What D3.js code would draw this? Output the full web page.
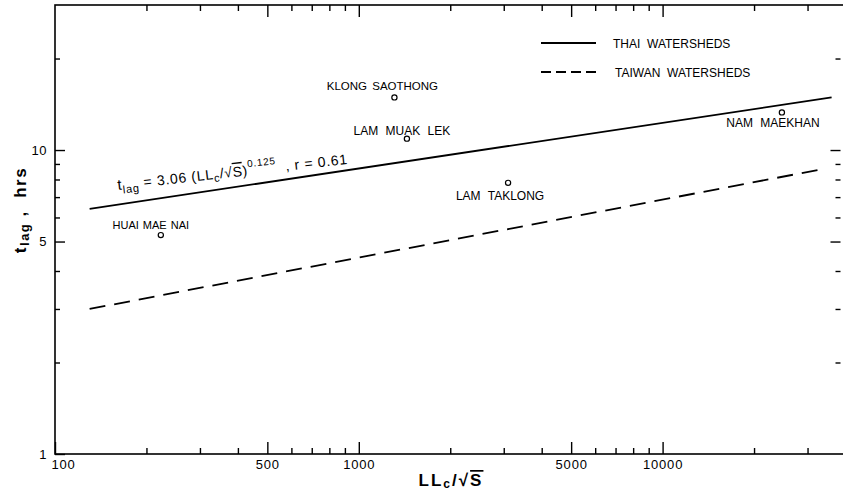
<!DOCTYPE html>
<html>
<head>
<meta charset="utf-8">
<script src="https://cdn.jsdelivr.net/npm/d3@7"></script>
<style>
  html, body { margin: 0; padding: 0; background: #fff; }
  svg { display: block; font-family: "Liberation Sans", Arial, sans-serif; }
  text { fill: #000; }
</style>
</head>
<body>
<svg id="chart" width="843" height="497"></svg>
<script>
// ---- data ----
const watersheds = ["HUAI MAE NAI", "KLONG SAOTHONG", "LAM MUAK LEK", "LAM TAKLONG", "NAM MAEKHAN"];
const llcOverSqrtS = [223, 1310, 1440, 3100, 24700];
const tLag = [5.25, 14.9, 10.9, 7.8, 13.3];

const thaiLineX = [130, 36000];
const thaiLineY = [6.4, 14.9];
const taiwanLineX = [130, 32500];
const taiwanLineY = [3.0, 8.6];

const legendLabels = ["THAI  WATERSHEDS", "TAIWAN  WATERSHEDS"];

const xMajorTicks = [100, 500, 1000, 5000, 10000];
const xMinorTicks = [200, 300, 400, 600, 700, 800, 900, 2000, 3000, 4000, 6000, 7000, 8000, 9000, 20000, 30000];
const yMajorTicks = [1, 5, 10];
const yMinorTicks = [2, 3, 4, 6, 7, 8, 9, 20];

// ---- layout ----
const svg = d3.select("#chart");
const pLeft = 55, pRight = 845.5, pTop = 5, pBottom = 454;

const x = d3.scaleLog().domain([100, 40000]).range([pLeft, pRight]);
const y = d3.scaleLog().domain([1, 30]).range([pBottom, pTop]);

// frame
svg.append("rect")
  .attr("x", pLeft).attr("y", pTop)
  .attr("width", pRight - pLeft).attr("height", pBottom - pTop)
  .attr("fill", "none").attr("stroke", "#000").attr("stroke-width", 1.6);

function styleAxis(g) {
  g.select(".domain").remove();
  g.selectAll(".tick line").attr("stroke", "#000").attr("stroke-width", 1.4);
  g.selectAll(".tick text").attr("fill", "#000");
}

// bottom axis
svg.append("g").attr("transform", `translate(0,${pBottom})`)
  .call(d3.axisBottom(x).tickValues(xMinorTicks).tickSize(-6).tickFormat(""))
  .call(styleAxis);
const xMaj = svg.append("g").attr("transform", `translate(0,${pBottom})`)
  .call(d3.axisBottom(x).tickValues(xMajorTicks).tickSize(-12).tickPadding(6).tickFormat(d3.format("d")))
  .call(styleAxis);
xMaj.selectAll(".tick text").attr("font-size", 13).attr("letter-spacing", 0.8)
  .attr("font-family", "Liberation Sans, Arial, sans-serif");
xMaj.selectAll(".tick").filter(d => d === 100).select("text").attr("dx", 8);

// top axis
svg.append("g").attr("transform", `translate(0,${pTop})`)
  .call(d3.axisTop(x).tickValues(xMinorTicks).tickSize(-6).tickFormat(""))
  .call(styleAxis);
svg.append("g").attr("transform", `translate(0,${pTop})`)
  .call(d3.axisTop(x).tickValues(xMajorTicks.filter(d => d > 100)).tickSize(-12).tickFormat(""))
  .call(styleAxis);

// left axis
svg.append("g").attr("transform", `translate(${pLeft},0)`)
  .call(d3.axisLeft(y).tickValues(yMinorTicks).tickSize(-5).tickFormat(""))
  .call(styleAxis);
const yMaj = svg.append("g").attr("transform", `translate(${pLeft},0)`)
  .call(d3.axisLeft(y).tickValues(yMajorTicks).tickSize(-10).tickPadding(8).tickFormat(d3.format("d")))
  .call(styleAxis);
yMaj.selectAll(".tick text").attr("font-size", 13).attr("letter-spacing", 0.5)
  .attr("font-family", "Liberation Sans, Arial, sans-serif");

// right axis (ticks only)
svg.append("g").attr("transform", `translate(${pRight - 5},0)`)
  .call(d3.axisRight(y).tickValues(yMinorTicks).tickSize(-5).tickFormat(""))
  .call(styleAxis);
svg.append("g").attr("transform", `translate(${pRight - 5},0)`)
  .call(d3.axisRight(y).tickValues(yMajorTicks.filter(d => d > 1)).tickSize(-10).tickFormat(""))
  .call(styleAxis);

// regression lines
const line = d3.line().x(d => x(d[0])).y(d => y(d[1]));
svg.append("path")
  .datum(d3.zip(thaiLineX, thaiLineY))
  .attr("d", line).attr("fill", "none").attr("stroke", "#000").attr("stroke-width", 1.8);
svg.append("path")
  .datum(d3.zip(taiwanLineX, taiwanLineY))
  .attr("d", line).attr("fill", "none").attr("stroke", "#000").attr("stroke-width", 1.8)
  .attr("stroke-dasharray", "16,9");

// points
const pts = d3.range(watersheds.length).map(i => ({name: watersheds[i], xv: llcOverSqrtS[i], yv: tLag[i]}));
svg.append("g").selectAll("circle").data(pts).join("circle")
  .attr("cx", d => x(d.xv)).attr("cy", d => y(d.yv)).attr("r", 2.6)
  .attr("fill", "#fff").attr("stroke", "#000").attr("stroke-width", 1.2);

// point labels: [dx, dy, word-spacing, font-size]
const labelStyle = {
  "HUAI MAE NAI": [-10, -6, 1, 11],
  "KLONG SAOTHONG": [-12, -7, 2, 11.5],
  "LAM MUAK LEK": [-5, -4, 4, 12],
  "LAM TAKLONG": [-8, 17, 4, 12],
  "NAM MAEKHAN": [-9, 15, 4, 12]
};
svg.append("g").selectAll("text").data(pts).join("text")
  .attr("x", d => x(d.xv) + labelStyle[d.name][0])
  .attr("y", d => y(d.yv) + labelStyle[d.name][1])
  .attr("text-anchor", "middle")
  .attr("font-size", d => labelStyle[d.name][3])
  .attr("word-spacing", d => labelStyle[d.name][2])
  .text(d => d.name);

// legend
const legend = svg.append("g");
[0, 1].forEach(i => {
  const ly = 43 + i * 29;
  legend.append("line")
    .attr("x1", 541).attr("x2", 596).attr("y1", ly).attr("y2", ly)
    .attr("stroke", "#000").attr("stroke-width", 1.8)
    .attr("stroke-dasharray", i === 1 ? "10,5" : null);
  legend.append("text")
    .attr("x", 613 + i * 2).attr("y", ly + 5)
    .attr("font-size", 12)
    .style("white-space", "pre")
    .text(legendLabels[i]);
});

// equation along the Thai line
const eq = svg.append("text")
  .attr("transform", "translate(118,190) rotate(-6.5)")
  .attr("font-size", 14)
  .attr("letter-spacing", 0.7)
  .style("white-space", "pre");
eq.append("tspan").attr("font-size", 15).text("t");
eq.append("tspan").attr("font-size", 11).attr("dy", 4).text("lag");
eq.append("tspan").attr("dy", -4).text(" = 3.06 (LL");
eq.append("tspan").attr("font-size", 11).attr("dy", 3).text("c");
eq.append("tspan").attr("dy", -3).text("/√");
eq.append("tspan").style("text-decoration", "overline").text("S");
eq.append("tspan").text(")");
eq.append("tspan").attr("font-size", 10).attr("dy", -8).text("0.125");
eq.append("tspan").attr("dy", 8).text("  , r = 0.61");

// x axis title
const xt = svg.append("text")
  .attr("x", 451).attr("y", 486)
  .attr("text-anchor", "middle")
  .attr("font-size", 17)
  .attr("font-weight", "bold")
  .attr("letter-spacing", 2)
  .style("white-space", "pre");
xt.append("tspan").text("LL");
xt.append("tspan").attr("font-size", 12).attr("dy", 2).text("c");
xt.append("tspan").attr("dy", -2).text("/√");
xt.append("tspan").style("text-decoration", "overline").text("S");

// y axis title
const yt = svg.append("text")
  .attr("transform", "translate(26,210) rotate(-90)")
  .attr("text-anchor", "middle")
  .attr("font-size", 17)
  .attr("font-weight", "bold")
  .attr("letter-spacing", 1.5)
  .style("white-space", "pre");
yt.append("tspan").text("t");
yt.append("tspan").attr("font-size", 13).attr("dy", 3).text("lag");
yt.append("tspan").attr("dy", -3).text(" ,  hrs");
</script>
</body>
</html>
